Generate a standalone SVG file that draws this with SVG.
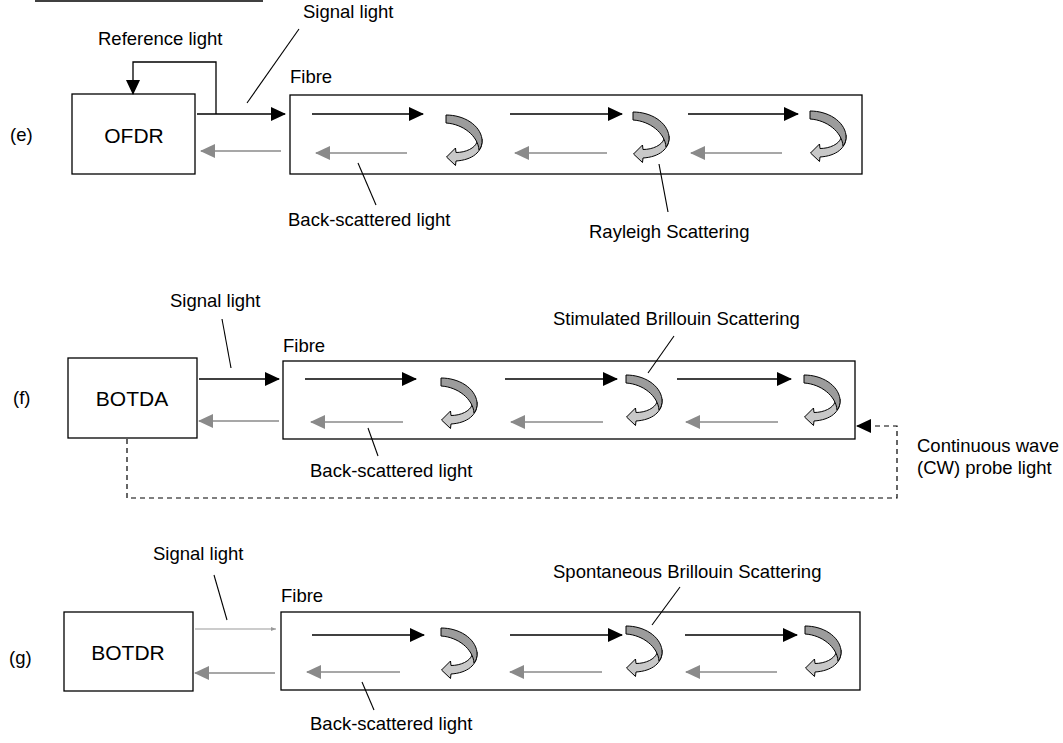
<svg xmlns="http://www.w3.org/2000/svg" xmlns:xlink="http://www.w3.org/1999/xlink" width="1063" height="743" viewBox="0 0 1063 743">
  <style>
    text { font-family: "Liberation Sans", Arial, sans-serif; fill: #000; }
    .lbl { font-size: 18.5px; }
    .box-lbl { font-size: 21px; text-anchor: middle; }
    .box { fill: #fff; stroke: #000; stroke-width: 1.3; }
    .fwd { stroke: #000; stroke-width: 1.3; fill: none; marker-end: url(#ah-black); }
    .back { stroke: #8a8a8a; stroke-width: 1.5; fill: none; marker-end: url(#ah-gray); }
    .thin { stroke: #999; stroke-width: 1; fill: none; marker-end: url(#ah-small); }
    .lead { stroke: #000; stroke-width: 1.1; fill: none; }
    .dash { stroke: #000; stroke-width: 1.2; fill: none; stroke-dasharray: 5 4; marker-end: url(#ah-black); }
    .curl-dark { fill: #9c9c9c; stroke: #000; stroke-width: 1; stroke-linejoin: round; }
    .curl-light { fill: #c8c8c8; stroke: #000; stroke-width: 1; stroke-linejoin: round; }
  </style>
  <defs>
    <marker id="ah-black" markerUnits="userSpaceOnUse" markerWidth="15" markerHeight="14" refX="14" refY="7" orient="auto">
      <path d="M0,0 L15,7 L0,14 Z" fill="#000"/>
    </marker>
    <marker id="ah-gray" markerUnits="userSpaceOnUse" markerWidth="15" markerHeight="14" refX="14" refY="7" orient="auto">
      <path d="M0,0 L15,7 L0,14 Z" fill="#8a8a8a"/>
    </marker>
    <marker id="ah-small" markerUnits="userSpaceOnUse" markerWidth="5" markerHeight="4" refX="5" refY="2" orient="auto">
      <path d="M0,0 L5,2 L0,4 Z" fill="#999"/>
    </marker>
    <!-- twisted ribbon arrow marking a scattering point -->
    <g id="curl">
      <path class="curl-light" d="M36,24 C37,37 26,45 10,46 L9.5,50.5 L0.5,42 L9.5,33 L10,37.5 C20,37.5 29,33 31,27 Z"/>
      <path class="curl-dark" d="M0,0 C18,0 34,10 36,24 C36.5,29 35,33 33,35 C32,21 17,9 0,8 Z"/>
    </g>
  </defs>

  <!-- heading rule -->
  <line x1="35" y1="1" x2="263" y2="1" stroke="#000" stroke-width="1.6"/>

  <!-- panel labels -->
  <text class="lbl" x="10" y="141">(e)</text>
  <text class="lbl" x="13" y="404">(f)</text>
  <text class="lbl" x="9" y="664">(g)</text>

  <!-- ===== (e) OFDR ===== -->
  <g id="ofdr">
    <rect class="box" x="72" y="94" width="123" height="80"/>
    <text class="box-lbl" x="134" y="143">OFDR</text>
  </g>
  <g id="fibre-e">
    <rect class="box" x="290" y="95" width="572" height="79"/>
    <text class="lbl" x="290" y="83">Fibre</text>
    <use xlink:href="#curl" x="446" y="115"/>
    <use xlink:href="#curl" x="633" y="112"/>
    <use xlink:href="#curl" x="810" y="111"/>
  </g>

  <!-- ===== (f) BOTDA ===== -->
  <g id="botda">
    <rect class="box" x="68" y="358" width="129" height="80"/>
    <text class="box-lbl" x="132" y="406">BOTDA</text>
  </g>
  <g id="fibre-f">
    <rect class="box" x="283" y="361" width="572" height="78"/>
    <text class="lbl" x="283" y="352">Fibre</text>
    <use xlink:href="#curl" x="441" y="378"/>
    <use xlink:href="#curl" x="626" y="375"/>
    <use xlink:href="#curl" x="804" y="375"/>
  </g>

  <!-- ===== (g) BOTDR ===== -->
  <g id="botdr">
    <rect class="box" x="64" y="612" width="129" height="79"/>
    <text class="box-lbl" x="128" y="660">BOTDR</text>
  </g>
  <g id="fibre-g">
    <rect class="box" x="281" y="612" width="579" height="78"/>
    <text class="lbl" x="281" y="602">Fibre</text>
    <use xlink:href="#curl" x="441" y="628"/>
    <use xlink:href="#curl" x="626" y="626"/>
    <use xlink:href="#curl" x="805" y="626"/>
  </g>

  <!-- connectors -->
  <g id="connectors">
    <!-- (e) -->
    <polyline class="fwd" points="216,114 216,62 133,62 133,94"/>
    <line class="fwd" x1="197" y1="114" x2="285" y2="114"/>
    <line class="back" x1="281" y1="151" x2="201" y2="151"/>
    <line class="fwd" x1="312" y1="114" x2="423" y2="114"/>
    <line class="fwd" x1="510" y1="114" x2="622" y2="114"/>
    <line class="fwd" x1="688" y1="114" x2="798" y2="114"/>
    <line class="back" x1="407" y1="153" x2="316" y2="153"/>
    <line class="back" x1="607" y1="153" x2="515" y2="153"/>
    <line class="back" x1="782" y1="153" x2="691" y2="153"/>
    <!-- (f) -->
    <line class="fwd" x1="199" y1="379" x2="279" y2="379"/>
    <line class="back" x1="279" y1="421" x2="199" y2="421"/>
    <line class="fwd" x1="305" y1="379" x2="416" y2="379"/>
    <line class="fwd" x1="505" y1="379" x2="617" y2="379"/>
    <line class="fwd" x1="677" y1="379" x2="791" y2="379"/>
    <line class="back" x1="403" y1="422" x2="311" y2="422"/>
    <line class="back" x1="603" y1="422" x2="511" y2="422"/>
    <line class="back" x1="778" y1="422" x2="686" y2="422"/>
    <path class="dash" d="M127,439 V498 H897 V426 H857"/>
    <!-- (g) -->
    <line class="thin" x1="195" y1="629" x2="276" y2="629"/>
    <line class="back" x1="275" y1="673" x2="195" y2="673"/>
    <line class="fwd" x1="312" y1="635" x2="424" y2="635"/>
    <line class="fwd" x1="510" y1="635" x2="622" y2="635"/>
    <line class="fwd" x1="685" y1="635" x2="797" y2="635"/>
    <line class="back" x1="400" y1="672" x2="307" y2="672"/>
    <line class="back" x1="602" y1="672" x2="510" y2="672"/>
    <line class="back" x1="777" y1="672" x2="686" y2="672"/>
  </g>

  <!-- callout leaders and labels -->
  <g id="callouts">
    <line class="lead" x1="247" y1="103" x2="299" y2="29"/>
    <text class="lbl" x="303" y="18">Signal light</text>
    <text class="lbl" x="98" y="45">Reference light</text>
    <line class="lead" x1="358" y1="163" x2="376" y2="205"/>
    <text class="lbl" x="288" y="226">Back-scattered light</text>
    <line class="lead" x1="659" y1="164" x2="668" y2="212"/>
    <text class="lbl" x="589" y="238">Rayleigh Scattering</text>

    <line class="lead" x1="222" y1="319" x2="231" y2="368"/>
    <text class="lbl" x="170" y="307">Signal light</text>
    <line class="lead" x1="674" y1="336" x2="648" y2="373"/>
    <text class="lbl" x="553" y="325">Stimulated Brillouin Scattering</text>
    <line class="lead" x1="368" y1="428" x2="378" y2="456"/>
    <text class="lbl" x="310" y="477">Back-scattered light</text>
    <text class="lbl" x="917" y="452">Continuous wave</text>
    <text class="lbl" x="917" y="474">(CW) probe light</text>

    <line class="lead" x1="214" y1="575" x2="227" y2="620"/>
    <text class="lbl" x="153" y="560">Signal light</text>
    <line class="lead" x1="680" y1="587" x2="652" y2="625"/>
    <text class="lbl" x="553" y="578">Spontaneous Brillouin Scattering</text>
    <line class="lead" x1="362" y1="682" x2="374" y2="710"/>
    <text class="lbl" x="310" y="730">Back-scattered light</text>
  </g>
</svg>
